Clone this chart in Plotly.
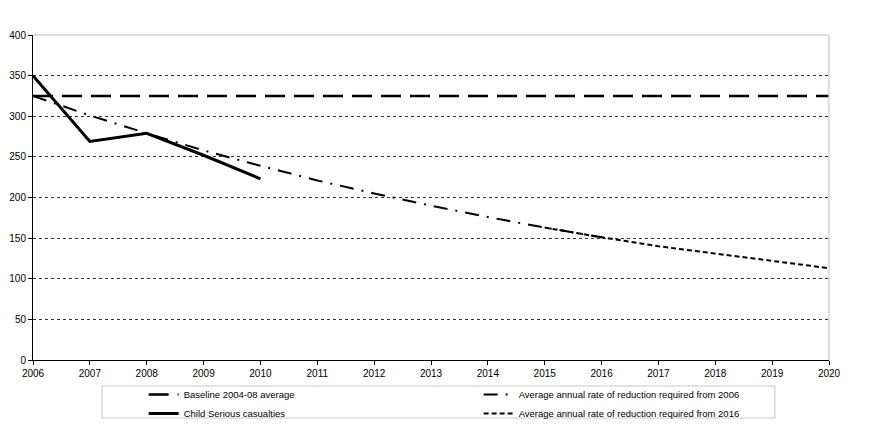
import plotly.graph_objects as go

years_all = [2006, 2007, 2008, 2009, 2010, 2011, 2012, 2013, 2014, 2015, 2016, 2017, 2018, 2019, 2020]
baseline = [325] * 15

years_child = [2006, 2007, 2008, 2009, 2010]
child_serious = [350, 269, 279, 252, 223]

years_2006 = [2006, 2007, 2008, 2009, 2010, 2011, 2012, 2013, 2014, 2015, 2016]
rate_2006 = [325, 301, 279, 258, 239, 221, 205, 190, 176, 163, 151]

years_2016 = [2015, 2016, 2017, 2018, 2019, 2020]
rate_2016 = [163, 151, 140, 131, 122, 113]

FONT = "Liberation Sans, Arial, sans-serif"

fig = go.Figure()
fig.add_trace(go.Scatter(x=years_all, y=baseline, mode="lines",
                         name="Baseline 2004-08 average",
                         line=dict(color="black", width=2.5, dash="20px,9px")))
fig.add_trace(go.Scatter(x=years_2006, y=rate_2006, mode="lines",
                         name="Average annual rate of reduction required from 2006",
                         line=dict(color="black", width=2, dash="14px,8px,2px,8px")))
fig.add_trace(go.Scatter(x=years_child, y=child_serious, mode="lines",
                         name="Child Serious casualties",
                         line=dict(color="black", width=3)))
fig.add_trace(go.Scatter(x=years_2016, y=rate_2016, mode="lines",
                         name="Average annual rate of reduction required from 2016",
                         line=dict(color="black", width=2, dash="5px,3px")))

fig.update_layout(
    width=870, height=427,
    margin=dict(l=25, r=49, t=27, b=75, autoexpand=False),
    paper_bgcolor="white", plot_bgcolor="white",
    font=dict(family=FONT, size=10, color="black"),
    showlegend=True,
    legend=dict(
        orientation="h",
        x=0.139, xanchor="left",
        y=-0.0615, yanchor="top",
        bgcolor="rgba(0,0,0,0)", borderwidth=0,
        font=dict(family=FONT, size=9.5, color="black"),
        itemwidth=30,
        entrywidth=290,
        traceorder="normal",
    ),
    xaxis=dict(
        range=[2006, 2020], dtick=1, tick0=2006,
        showgrid=False, zeroline=False,
        showline=True, linecolor="black", linewidth=1,
        ticks="outside", ticklen=4, tickcolor="black",
        tickfont=dict(family=FONT, size=10),
    ),
    yaxis=dict(
        range=[0, 400], dtick=50, tick0=0,
        showgrid=True, gridcolor="#333333", griddash="dot", gridwidth=1,
        zeroline=False,
        showline=True, linecolor="black", linewidth=1,
        ticks="outside", ticklen=4, tickcolor="black",
        tickfont=dict(family=FONT, size=10),
    ),
    shapes=[
        dict(type="line", xref="paper", yref="paper", x0=0, x1=1, y0=1, y1=1,
             line=dict(color="#d4d4d4", width=1.5), layer="above"),
        dict(type="line", xref="paper", yref="paper", x0=1, x1=1, y0=0, y1=1,
             line=dict(color="#d4d4d4", width=1.5), layer="above"),
        # legend frame
        dict(type="rect", xref="paper", yref="paper",
             x0=0.0867, x1=0.932, y0=-0.1785, y1=-0.08,
             line=dict(color="#c8c8c8", width=1), fillcolor="rgba(0,0,0,0)",
             layer="below"),
    ],
)

fig.write_html("out.html")
